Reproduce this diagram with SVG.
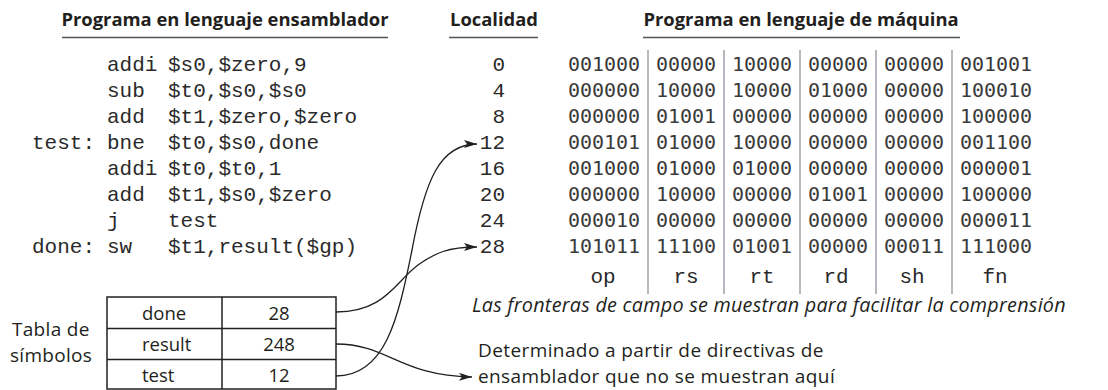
<svg xmlns="http://www.w3.org/2000/svg" width="1108" height="390" viewBox="0 0 1108 390">
<defs>
<style>
.h{font-family:"Open Sans","Noto Sans",sans-serif;font-weight:bold;font-size:18.4px;fill:#231f20;text-anchor:middle}
.ul{stroke:#555;stroke-width:1.4}
.code{font-family:"Liberation Mono","Courier New",monospace;font-size:21px;fill:#2a2a2a}
.loc{font-family:"Liberation Mono","Courier New",monospace;font-size:21px;fill:#2a2a2a;text-anchor:end}
.bin{font-family:"DejaVu Sans Mono",monospace;font-size:20px;fill:#3a3a3a;text-anchor:middle}
.fld{font-family:"Liberation Mono","Courier New",monospace;font-size:21px;fill:#2a2a2a;text-anchor:middle}
.sep{stroke:#a4a9b0;stroke-width:1.6}
.lbl{font-family:"Open Sans","Noto Sans",sans-serif;font-size:18.5px;fill:#231f20}
.big{font-family:"Open Sans","Noto Sans",sans-serif;font-size:19px;letter-spacing:0.3px;fill:#231f20}
.note{font-family:"Open Sans","Noto Sans",sans-serif;font-size:19px;letter-spacing:0.4px;fill:#231f20}
.it{font-family:"Open Sans","Noto Sans",sans-serif;font-style:italic;font-size:19.8px;letter-spacing:0.25px;fill:#231f20}
.tb{fill:none;stroke:#231f20;stroke-width:1.5}
.cn{fill:none;stroke:#231f20;stroke-width:1.3}
</style>
<marker id="ah" markerWidth="14" markerHeight="10" refX="13" refY="4" orient="auto" markerUnits="userSpaceOnUse">
<path d="M0,0 L13,4 L0,8 L3,4 z" fill="#231f20"/>
</marker>
</defs>

<g id="headers">
<text class="h" x="225" y="26">Programa en lenguaje ensamblador</text>
<line class="ul" x1="62" y1="37.5" x2="388" y2="37.5"/>
<text class="h" x="494" y="26">Localidad</text>
<line class="ul" x1="449" y1="37.5" x2="538" y2="37.5"/>
<text class="h" x="801" y="26">Programa en lenguaje de máquina</text>
<line class="ul" x1="643" y1="37.5" x2="960" y2="37.5"/>
</g>

<g id="assembly" class="code">
<text x="107" y="71">addi</text><text x="168" y="71">$s0,$zero,9</text>
<text x="107" y="97">sub</text><text x="168" y="97">$t0,$s0,$s0</text>
<text x="107" y="123">add</text><text x="168" y="123">$t1,$zero,$zero</text>
<text x="32" y="149">test:</text><text x="107" y="149">bne</text><text x="168" y="149">$t0,$s0,done</text>
<text x="107" y="175">addi</text><text x="168" y="175">$t0,$t0,1</text>
<text x="107" y="201">add</text><text x="168" y="201">$t1,$s0,$zero</text>
<text x="107" y="227">j</text><text x="168" y="227">test</text>
<text x="32" y="253">done:</text><text x="107" y="253">sw</text><text x="168" y="253">$t1,result($gp)</text>
</g>

<g id="locations" class="loc">
<text x="505" y="71">0</text>
<text x="505" y="97">4</text>
<text x="505" y="123">8</text>
<text x="505" y="149">12</text>
<text x="505" y="175">16</text>
<text x="505" y="201">20</text>
<text x="505" y="227">24</text>
<text x="505" y="253">28</text>
</g>

<g id="field-separators">
<line class="sep" x1="648" y1="50" x2="648" y2="294"/>
<line class="sep" x1="724" y1="50" x2="724" y2="294"/>
<line class="sep" x1="800" y1="50" x2="800" y2="294"/>
<line class="sep" x1="876" y1="50" x2="876" y2="294"/>
<line class="sep" x1="952" y1="50" x2="952" y2="294"/>
</g>

<g id="machine-code" class="bin">
<text x="604" y="71">001000</text><text x="686" y="71">00000</text><text x="762" y="71">10000</text><text x="838" y="71">00000</text><text x="914" y="71">00000</text><text x="996" y="71">001001</text>
<text x="604" y="97">000000</text><text x="686" y="97">10000</text><text x="762" y="97">10000</text><text x="838" y="97">01000</text><text x="914" y="97">00000</text><text x="996" y="97">100010</text>
<text x="604" y="123">000000</text><text x="686" y="123">01001</text><text x="762" y="123">00000</text><text x="838" y="123">00000</text><text x="914" y="123">00000</text><text x="996" y="123">100000</text>
<text x="604" y="149">000101</text><text x="686" y="149">01000</text><text x="762" y="149">10000</text><text x="838" y="149">00000</text><text x="914" y="149">00000</text><text x="996" y="149">001100</text>
<text x="604" y="175">001000</text><text x="686" y="175">01000</text><text x="762" y="175">01000</text><text x="838" y="175">00000</text><text x="914" y="175">00000</text><text x="996" y="175">000001</text>
<text x="604" y="201">000000</text><text x="686" y="201">10000</text><text x="762" y="201">00000</text><text x="838" y="201">01001</text><text x="914" y="201">00000</text><text x="996" y="201">100000</text>
<text x="604" y="227">000010</text><text x="686" y="227">00000</text><text x="762" y="227">00000</text><text x="838" y="227">00000</text><text x="914" y="227">00000</text><text x="996" y="227">000011</text>
<text x="604" y="253">101011</text><text x="686" y="253">11100</text><text x="762" y="253">01001</text><text x="838" y="253">00000</text><text x="914" y="253">00011</text><text x="996" y="253">111000</text>
</g>

<g id="field-names" class="fld">
<text x="603" y="283">op</text>
<text x="686" y="283">rs</text>
<text x="762" y="283">rt</text>
<text x="836" y="283">rd</text>
<text x="912" y="283">sh</text>
<text x="995" y="283">fn</text>
</g>

<g id="note-fields">
<text class="it" x="472" y="312">Las fronteras de campo se muestran para facilitar la comprensión</text>
</g>

<g id="note-directives" class="note">
<text x="478" y="357">Determinado a partir de directivas de</text>
<text x="478" y="383">ensamblador que no se muestran aquí</text>
</g>

<g id="symbol-table">
<text class="big" x="12" y="336">Tabla de</text>
<text class="big" x="10" y="362">símbolos</text>
<rect class="tb" x="107" y="297" width="229" height="92"/>
<line class="tb" x1="222" y1="297" x2="222" y2="389"/>
<line class="tb" x1="107" y1="328.5" x2="336" y2="328.5"/>
<line class="tb" x1="107" y1="359.5" x2="336" y2="359.5"/>
<text class="lbl" x="142" y="320">done</text>
<text class="lbl" x="279" y="320" text-anchor="middle">28</text>
<text class="lbl" x="142" y="351">result</text>
<text class="lbl" x="279" y="351" text-anchor="middle">248</text>
<text class="lbl" x="142" y="382">test</text>
<text class="lbl" x="279" y="382" text-anchor="middle">12</text>
</g>

<g id="connectors">
<path class="cn" marker-end="url(#ah)" d="M336,312 C385,312 395,282 418,265 C435,253 448,247 477,247"/>
<path class="cn" marker-end="url(#ah)" d="M336,376 C385,376 398,320 412,250 C425,180 440,144 477,144"/>
<path class="cn" marker-end="url(#ah)" d="M336,344 C388,344 400,376 472,377"/>
</g>
</svg>
